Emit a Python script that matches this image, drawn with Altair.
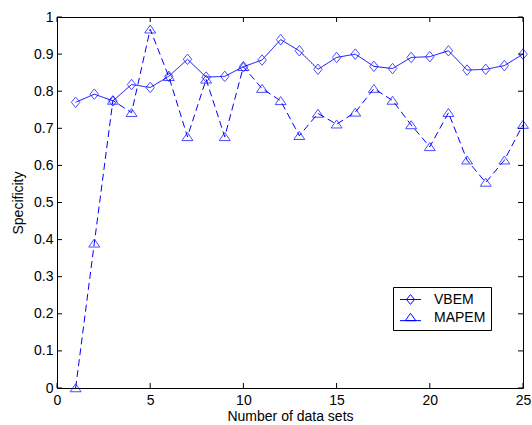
import altair as alt
import pandas as pd

# ---- data ----
data_sets = list(range(1, 26))
vbem = [0.770, 0.792, 0.774, 0.818, 0.810, 0.840, 0.886, 0.838, 0.840, 0.866,
        0.884, 0.939, 0.909, 0.859, 0.891, 0.900, 0.867, 0.861, 0.891, 0.893,
        0.909, 0.857, 0.859, 0.869, 0.900]
mapem = [0.000, 0.390, 0.775, 0.742, 0.967, 0.839, 0.677, 0.832, 0.677, 0.866,
         0.807, 0.774, 0.680, 0.740, 0.711, 0.743, 0.807, 0.775, 0.709, 0.650,
         0.742, 0.614, 0.554, 0.614, 0.710]
series_names = ["VBEM", "MAPEM"]
x_ticks = [0, 5, 10, 15, 20, 25]
y_ticks = [0, 0.1, 0.2, 0.3, 0.4, 0.5, 0.6, 0.7, 0.8, 0.9, 1]
x_title = "Number of data sets"
y_title = "Specificity"

rows = []
for name, vals in zip(series_names, [vbem, mapem]):
    for x, v in zip(data_sets, vals):
        rows.append({"n": x, "val": v, "series": name})
df = pd.DataFrame(rows)
xt = pd.DataFrame({"n": x_ticks})
yt = pd.DataFrame({"val": y_ticks})

W, H = 466, 371
BLUE = "#0000ff"
FONT = "Liberation Sans"

xscale = alt.Scale(domain=[0, 25], nice=False, zero=False)
yscale = alt.Scale(domain=[0, 1], nice=False, zero=False)

xaxis = alt.Axis(values=x_ticks, ticks=False, domain=False, grid=False,
                 labelOverlap=False, labelFlush=False,
                 labelPadding=5, titlePadding=2, labelFontSize=14,
                 titleFontSize=14, titleFontWeight="normal", labelColor="#000",
                 titleColor="#000", labelFont=FONT, titleFont=FONT)
yaxis = alt.Axis(values=y_ticks, ticks=False, domain=False, grid=False,
                 labelOverlap=False, labelFlush=False,
                 format="~g", labelPadding=4, titlePadding=8, labelFontSize=14,
                 titleFontSize=14, titleFontWeight="normal", labelColor="#000",
                 titleColor="#000", labelFont=FONT, titleFont=FONT)


def X():
    return alt.X("n:Q", scale=xscale, axis=xaxis, title=x_title)


def Y():
    return alt.Y("val:Q", scale=yscale, axis=yaxis, title=y_title)


base = alt.Chart(df)

lines = base.mark_line(color=BLUE, strokeWidth=1).encode(
    x=X(), y=Y(),
    strokeDash=alt.StrokeDash("series:N",
                              scale=alt.Scale(domain=series_names, range=[[1, 0], [7, 4]]),
                              legend=None),
)

diamond = "M0,-1.05L0.85,0L0,1.05L-0.85,0Z"
triangle = "M0,-0.85L1.1,0.75L-1.1,0.75Z"

points = base.mark_point(color=BLUE, filled=False, strokeWidth=1, size=100).encode(
    x=X(), y=Y(),
    shape=alt.Shape("series:N",
                    scale=alt.Scale(domain=series_names, range=[diamond, triangle]),
                    legend=None),
)

leg_diamond = "M-1.5,0L1.5,0M0,-0.7L0.57,0L0,0.7L-0.57,0Z"
leg_triangle = "M-1.5,0.45L1.5,0.45M0,-0.6L0.75,0.45L-0.75,0.45Z"

legend_layer = base.mark_point(color=BLUE, filled=False, strokeWidth=1, opacity=0).encode(
    x=X(), y=Y(),
    shape=alt.Shape("series:N",
                    scale=alt.Scale(domain=series_names, range=[leg_diamond, leg_triangle]),
                    legend=alt.Legend(
                        title=None, orient="none", legendX=336, legendY=270,
                        padding=5, rowPadding=3, symbolOffset=5, labelOffset=16,
                        symbolSize=196, symbolOpacity=1, symbolStrokeColor=BLUE,
                        symbolFillColor="transparent", symbolStrokeWidth=1,
                        strokeColor="#000", fillColor="#fff",
                        labelFontSize=14, labelFont=FONT, labelColor="#000",
                        labelExpr="datum.label + '\u00a0\u00a0\u00a0'")),
)

tick_len = 5
xt_bottom = alt.Chart(xt).mark_rule(color="#000", strokeWidth=1).encode(
    x=X(), y=alt.value(H), y2=alt.value(H - tick_len))
xt_top = alt.Chart(xt).mark_rule(color="#000", strokeWidth=1).encode(
    x=X(), y=alt.value(0), y2=alt.value(tick_len))
yt_left = alt.Chart(yt).mark_rule(color="#000", strokeWidth=1).encode(
    y=Y(), x=alt.value(0), x2=alt.value(tick_len))
yt_right = alt.Chart(yt).mark_rule(color="#000", strokeWidth=1).encode(
    y=Y(), x=alt.value(W), x2=alt.value(W - tick_len))

chart = alt.layer(
    lines, xt_bottom, xt_top, yt_left, yt_right, points, legend_layer
).resolve_scale(shape="independent", strokeDash="independent").properties(
    width=W, height=H,
    autosize=alt.AutoSizeParams(type="none"),
    padding={"left": 57, "top": 17, "right": 9, "bottom": 37},
    background="white",
).configure_view(stroke="#000", strokeWidth=1)

chart.save("out.html", embed_options={"renderer": "svg", "actions": False})
